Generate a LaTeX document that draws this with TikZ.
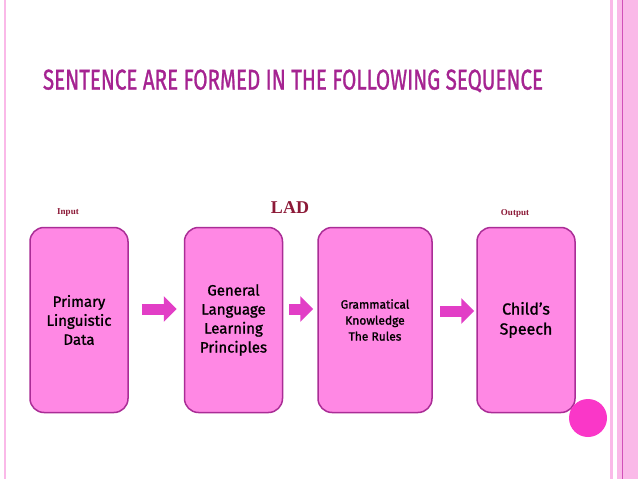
\documentclass[tikz,border=0pt]{standalone}
\usepackage{fontspec}
\setmainfont{Liberation Serif}
\setsansfont{Fira Sans}
\newfontfamily\boxfont{Fira Sans}[UprightFeatures={FakeBold=1.2}]
\usepackage{xcolor}
\usetikzlibrary{arrows.meta,positioning,calc}

\definecolor{boxfill}{RGB}{255,136,228}
\definecolor{boxline}{RGB}{170,45,150}
\definecolor{arrowfill}{RGB}{226,62,198}
\definecolor{titlecol}{RGB}{165,35,145}
\definecolor{dotcol}{RGB}{250,55,200}
\definecolor{stripe}{RGB}{250,185,232}
\definecolor{stripedark}{RGB}{210,80,185}
\definecolor{tagcol}{RGB}{140,25,55}

\begin{document}
\begin{tikzpicture}[x=1pt,y=-1pt,
    stage/.style={draw=boxline, fill=boxfill, line width=1.5pt, rounded corners=14pt,
      minimum width=98pt, minimum height=185pt, align=center, text=black,
      font=\boxfont\fontsize{15}{19}\selectfont},
    flow/.style={arrowfill, line width=11pt, -{Triangle[length=13pt,width=25pt]}},
    tag/.style={font=\bfseries\fontsize{9}{9}\selectfont, text=tagcol}
]
\useasboundingbox[fill=white] (0,0) rectangle (638,479);
\draw[stripe, line width=2pt] (5,0) -- (5,479);
\fill[stripe] (610,0) rectangle (613,479);
\fill[stripe] (617,0) rectangle (638,479);
\draw[stripedark, line width=1.2pt] (622.5,0) -- (622.5,479);

\node[text=titlecol, inner sep=0pt] (title) at (293,81)
  {\resizebox{500pt}{20pt}{\boxfont SENTENCE ARE FORMED IN THE FOLLOWING SEQUENCE}};

\node[stage] (pld) at (79,320) {Primary\\Linguistic\\Data};
\node[stage] (glp) at (233.5,320) {General\\Language\\Learning\\Principles};
\node[stage, minimum width=114pt, font=\boxfont\fontsize{12}{16}\selectfont] (gk) at (375,320)
  {Grammatical\\Knowledge\\The Rules};
\node[stage, font=\boxfont\fontsize{16}{20}\selectfont] (cs) at (526,320) {Child’s\\Speech};

\node[tag] (in) at (68,213) {Input};
\node[font=\bfseries\fontsize{18}{18}\selectfont, text=tagcol] (lad) at (290,208) {LAD};
\node[tag] (out) at (515,213) {Output};

\node[circle, fill=dotcol, minimum size=38pt, inner sep=0pt] (dot) at (588,418) {};

\draw[flow, shorten <=13pt, shorten >=7pt] ([yshift=11pt]pld.east) -- ([yshift=11pt]glp.west);
\draw[flow, shorten <=6pt, shorten >=4pt] ([yshift=11pt]glp.east) -- ([yshift=11pt]gk.west);
\draw[flow, shorten <=7pt, shorten >=2pt] ([yshift=9pt]gk.east) -- ([yshift=9pt]cs.west);
\end{tikzpicture}
\end{document}
